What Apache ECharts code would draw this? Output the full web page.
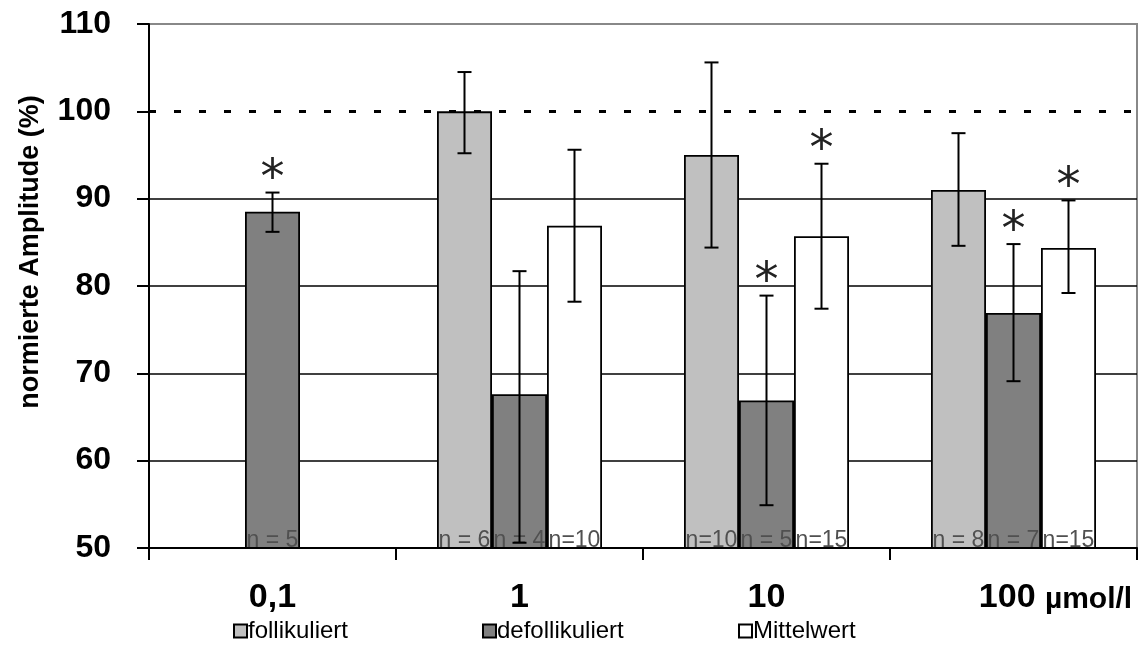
<!DOCTYPE html>
<html>
<head>
<meta charset="utf-8">
<script src="https://cdn.jsdelivr.net/npm/echarts@6/dist/echarts.min.js"></script>
<style>
html,body{margin:0;padding:0;background:#fff;}
#chart{width:1147px;height:648px;}
</style>
</head>
<body>
<div id="chart"></div>
<script>
// ---- data ----
const categories = ['0,1', '1', '10', '100'];
const unitLabel = 'µmol/l';
const seriesNames = ['follikuliert', 'defollikuliert', 'Mittelwert'];

const follikuliert = [null, 100, 95.0, 91.0];
const follLow = [null, 95.2, 84.4, 84.6];
const follHigh = [null, 104.5, 105.6, 97.5];
const follStar = [0, 0, 0, 0];
const follN = ['', 'n = 6', 'n=10', 'n = 8'];

const defollikuliert = [88.5, 67.6, 66.9, 76.9];
const defollLow = [86.2, 50.6, 54.9, 69.1];
const defollHigh = [90.7, 81.7, 78.9, 84.8];
const defollStar = [1, 0, 1, 1];
const defollN = ['n = 5', 'n = 4', 'n = 5', 'n = 7'];

const mittelwert = [null, 86.9, 85.7, 84.35];
const mittelLow = [null, 78.2, 77.4, 79.2];
const mittelHigh = [null, 95.6, 94.0, 89.8];
const mittelStar = [0, 0, 1, 1];
const mittelN = ['', 'n=10', 'n=15', 'n=15'];

const yTicks = [50, 60, 70, 80, 90, 100, 110];
const solidGridValues = [60, 70, 80, 90];
const referenceValue = 100;

// ---- chart ----
const FONT = 'Liberation Sans, Arial, sans-serif';
const BAR_W = 55;
const chart = echarts.init(document.getElementById('chart'), null, {renderer: 'canvas'});

function errSeries(name, low, high, star, offset) {
  const data = [];
  low.forEach((l, i) => { if (l != null) data.push([i, l, high[i], star[i]]); });
  return {
    type: 'custom',
    name: name + '_err',
    z: 10,
    silent: true,
    data: data,
    encode: {x: 0, y: [1, 2]},
    renderItem: function (params, api) {
      const c = api.coord([api.value(0), api.value(1)]);
      const x = c[0] + offset;
      const yL = c[1];
      const yH = api.coord([api.value(0), api.value(2)])[1];
      const cap = 7;
      const st = {stroke: '#000', lineWidth: 2};
      const children = [
        {type: 'line', shape: {x1: x, y1: yL, x2: x, y2: yH}, style: st},
        {type: 'line', shape: {x1: x - cap, y1: yL, x2: x + cap, y2: yL}, style: st},
        {type: 'line', shape: {x1: x - cap, y1: yH, x2: x + cap, y2: yH}, style: st}
      ];
      if (api.value(3)) {
        children.push({type: 'text', style: {text: '*', x: x, y: yH - 12, align: 'center', verticalAlign: 'middle', font: '48px "DejaVu Sans"', fill: '#222'}});
      }
      return {type: 'group', children: children};
    }
  };
}

function barSeries(name, values, color, nLabels) {
  return {
    type: 'bar',
    name: name,
    data: values,
    barWidth: BAR_W,
    barGap: '0%',
    z: 3,
    itemStyle: {color: color, borderColor: '#000', borderWidth: 1.8},
    label: {
      show: true,
      position: 'insideBottom',
      distance: -3,
      formatter: p => nLabels[p.dataIndex],
      color: '#505050',
      fontSize: 23,
      fontFamily: FONT
    }
  };
}

const markData = solidGridValues.map(v => ({yAxis: v, lineStyle: {type: 'solid', color: '#000', width: 1.5}}));
markData.push({yAxis: referenceValue, lineStyle: {type: [7, 18], color: '#000', width: 3}});

const option = {
  backgroundColor: '#fff',
  animation: false,
  textStyle: {fontFamily: FONT},
  grid: {left: 149, right: 10, top: 24, bottom: 100, show: true, borderColor: '#888', borderWidth: 2, backgroundColor: 'transparent'},
  legend: seriesNames.map((n, i) => ({
    data: [n],
    left: [233, 482, 738][i],
    top: 619,
    itemWidth: 13,
    itemHeight: 13,
    itemGap: 0,
    padding: 0,
    icon: 'rect',
    textStyle: {fontSize: 24, color: '#000', fontFamily: FONT, padding: [0, 0, 0, -4]}
  })),
  xAxis: {
    type: 'category',
    data: categories,
    axisLine: {lineStyle: {color: '#000', width: 2}},
    axisTick: {show: true, length: 12, lineStyle: {color: '#000', width: 2}},
    axisLabel: {
      margin: 33,
      formatter: (v, i) => i === categories.length - 1 ? '{b|' + v + '} {u|' + unitLabel + '}' : '{a|' + v + '}',
      rich: {
        a: {fontSize: 34, fontWeight: 'bold', color: '#000', fontFamily: FONT},
        b: {fontSize: 34, fontWeight: 'bold', color: '#000', fontFamily: FONT, padding: [0, 0, 0, 84]},
        u: {fontSize: 30, fontWeight: 'bold', color: '#000', fontFamily: FONT, padding: [4, 0, 0, 6]}
      }
    },
    splitLine: {show: false}
  },
  yAxis: {
    type: 'value',
    min: yTicks[0],
    max: yTicks[yTicks.length - 1],
    interval: 10,
    axisLine: {show: true, lineStyle: {color: '#000', width: 2}},
    axisTick: {show: true, length: 12, lineStyle: {color: '#000', width: 2}},
    axisLabel: {margin: 38, fontSize: 32, fontWeight: 'bold', color: '#000', fontFamily: FONT},
    splitLine: {show: false}
  },
  graphic: [{
    type: 'text',
    x: 31, y: 252,
    rotation: Math.PI / 2,
    style: {text: 'normierte Amplitude (%)', font: 'bold 27px "Liberation Sans", Arial, sans-serif', fill: '#000', align: 'center', verticalAlign: 'middle'}
  }],
  series: [
    {
      type: 'line', name: 'grid', data: [], z: 1, silent: true, legendHoverLink: false,
      markLine: {z: 1, silent: true, symbol: 'none', label: {show: false}, data: markData}
    },
    barSeries(seriesNames[0], follikuliert, '#c0c0c0', follN),
    barSeries(seriesNames[1], defollikuliert, '#808080', defollN),
    barSeries(seriesNames[2], mittelwert, '#ffffff', mittelN),
    errSeries(seriesNames[0], follLow, follHigh, follStar, -BAR_W),
    errSeries(seriesNames[1], defollLow, defollHigh, defollStar, 0),
    errSeries(seriesNames[2], mittelLow, mittelHigh, mittelStar, BAR_W)
  ]
};
chart.setOption(option);
</script>
</body>
</html>
